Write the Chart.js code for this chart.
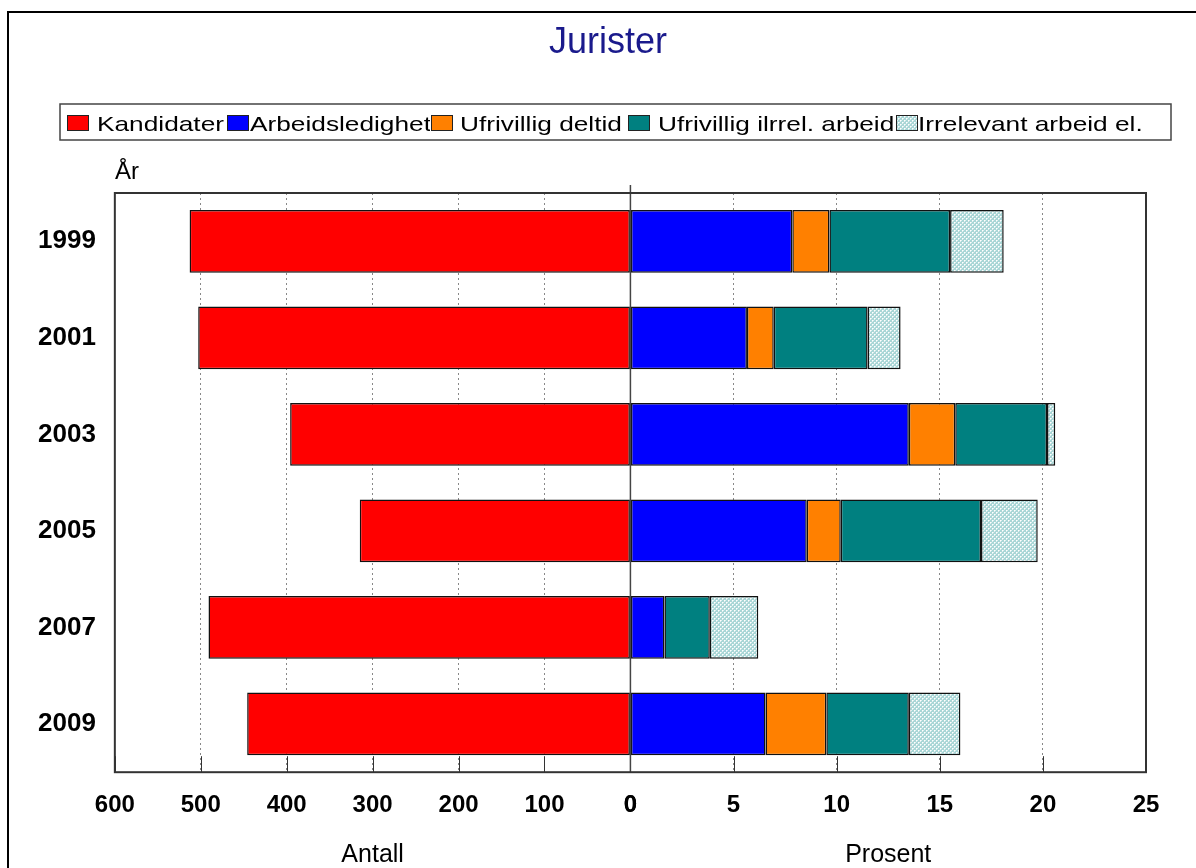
<!DOCTYPE html>
<html><head><meta charset="utf-8">
<script src="https://cdn.jsdelivr.net/npm/chart.js@4.4.0/dist/chart.umd.min.js"></script>
<style>html,body{margin:0;padding:0;background:#fff}canvas{display:block}</style>
</head><body>
<canvas id="c" width="1196" height="868"></canvas>
<script>
const years = ['1999','2001','2003','2005','2007','2009'];
const kandidater = [513, 503, 396, 315, 491, 446];
const arbeidsledighet = [7.85, 5.65, 13.5, 8.55, 1.65, 6.55];
const ufrivilligDeltid = [1.8, 1.3, 2.25, 1.65, 0, 2.95];
const ufrivilligIlrrel = [5.85, 4.55, 4.45, 6.8, 2.2, 4.0];
const irrelevantArbeid = [2.6, 1.6, 0.4, 2.75, 2.35, 2.5];
const antallTicks = [0,100,200,300,400,500,600];
const prosentTicks = [0,5,10,15,20,25];

const FONT = '"Liberation Sans", Arial, sans-serif';

function makePattern(){
  const c = document.createElement('canvas'); c.width = 4; c.height = 4;
  const g = c.getContext('2d');
  g.fillStyle = '#a9d6d6'; g.fillRect(0,0,4,4);
  g.fillStyle = '#ffffff';
  g.fillRect(0,0,1,1); g.fillRect(2,2,1,1);
  g.fillStyle = '#dff0f0';
  g.fillRect(1,0,1,1); g.fillRect(0,1,1,1); g.fillRect(3,2,1,1); g.fillRect(2,3,1,1);
  return document.getElementById('c').getContext('2d').createPattern(c,'repeat');
}
const pattern = makePattern();

const decor = {
  id:'decor',
  afterDraw(chart){
    const ctx = chart.ctx, a = chart.chartArea;
    ctx.save();
    // outer frame
    ctx.strokeStyle = '#000'; ctx.lineWidth = 2;
    ctx.beginPath(); ctx.moveTo(8,868); ctx.lineTo(8,12); ctx.lineTo(1196,12); ctx.stroke();
    // title
    ctx.fillStyle = '#1a1a8c'; ctx.font = '36px ' + FONT;
    ctx.textAlign = 'center'; ctx.textBaseline = 'alphabetic';
    ctx.fillText('Jurister', 608, 53);
    // legend
    ctx.strokeStyle = '#444'; ctx.lineWidth = 1.5;
    ctx.strokeRect(60, 104, 1111, 36);
    const boxX = [67, 227, 431, 628, 896];
    const textX = [97, 250, 460, 658, 918];
    ctx.font = '21px ' + FONT; ctx.textAlign = 'left';
    chart.data.datasets.forEach((ds, i) => {
      ctx.save();
      ctx.translate(textX[i], 131);
      ctx.scale(1.25, 1);
      ctx.fillStyle = '#000';
      ctx.fillText(ds.label, 0, 0);
      ctx.restore();
      ctx.fillStyle = '#fff';
      ctx.fillRect(boxX[i]-1, 114, 23, 17);
      ctx.fillStyle = ds.backgroundColor;
      ctx.fillRect(boxX[i], 115, 21, 15);
      ctx.strokeStyle = '#222'; ctx.lineWidth = 1;
      ctx.strokeRect(boxX[i]+0.5, 115.5, 21, 15);
    });
    // År
    ctx.font = '24px ' + FONT; ctx.fillStyle = '#000';
    ctx.fillText('År', 115, 179);
    // inner ticks at bottom
    const xL = chart.scales.xL, xR = chart.scales.xR;
    ctx.strokeStyle = '#333'; ctx.lineWidth = 1;
    ctx.beginPath();
    xL.ticks.forEach(t => { const x = Math.round(xL.getPixelForValue(t.value))+0.5; ctx.moveTo(x, a.bottom); ctx.lineTo(x, a.bottom-16); });
    xR.ticks.forEach(t => { const x = Math.round(xR.getPixelForValue(t.value))+0.5; ctx.moveTo(x, a.bottom); ctx.lineTo(x, a.bottom-16); });
    ctx.stroke();
    // zero line
    const x0 = xR.getPixelForValue(0);
    ctx.strokeStyle = '#444'; ctx.lineWidth = 1.5;
    ctx.beginPath(); ctx.moveTo(x0, a.top - 8); ctx.lineTo(x0, a.bottom); ctx.stroke();
    // plot border
    ctx.strokeStyle = '#333'; ctx.lineWidth = 2;
    ctx.strokeRect(a.left, a.top, a.right - a.left, a.bottom - a.top);
    ctx.restore();
  }
};

const gridOpts = { color:'#888', drawTicks:false, lineWidth:1 };
const borderOpts = { display:false, dash:[2,3] };
const tickFont = { family: FONT, size: 24, weight: 'bold' };
const titleFont = { family: FONT, size: 25, lineHeight: 1.0 };

new Chart(document.getElementById('c'), {
  type:'bar',
  data:{
    labels: years,
    datasets:[
      {label:'Kandidater', data:kandidater, xAxisID:'xL', backgroundColor:'#ff0000'},
      {label:'Arbeidsledighet', data:arbeidsledighet, xAxisID:'xR', backgroundColor:'#0000ff'},
      {label:'Ufrivillig deltid', data:ufrivilligDeltid, xAxisID:'xR', backgroundColor:'#ff8000'},
      {label:'Ufrivillig ilrrel. arbeid', data:ufrivilligIlrrel, xAxisID:'xR', backgroundColor:'#008080'},
      {label:'Irrelevant arbeid el.', data:irrelevantArbeid, xAxisID:'xR', backgroundColor:pattern}
    ]
  },
  options:{
    indexAxis:'y', responsive:false, animation:false,
    layout:{padding:{top:193, left:27, right:50, bottom:0}},
    datasets:{bar:{barPercentage:0.65, categoryPercentage:1, borderWidth:1.5, borderColor:'#111', borderSkipped:false}},
    plugins:{legend:{display:false}, title:{display:false}, tooltip:{enabled:false}},
    scales:{
      y:{stacked:true, grid:{display:false}, border:{display:false},
         ticks:{color:'#000', font:{family:FONT, size:26, weight:'bold'}, padding:11}},
      xL:{type:'linear', position:'bottom', stack:'bottom', stackWeight:1, reverse:true, min:0, max:600, stacked:true,
          afterBuildTicks: s => { s.ticks = antallTicks.map(v => ({value:v})); },
          grid:gridOpts, border:borderOpts,
          ticks:{color:'#000', font:tickFont, padding:19, maxRotation:0},
          title:{display:true, text:'Antall', color:'#000', font:titleFont, padding:{top:4, bottom:0}}},
      xR:{type:'linear', position:'bottom', stack:'bottom', stackWeight:1, min:0, max:25, stacked:true,
          afterBuildTicks: s => { s.ticks = prosentTicks.map(v => ({value:v})); },
          grid:gridOpts, border:borderOpts,
          ticks:{color:'#000', font:tickFont, padding:19, maxRotation:0},
          title:{display:true, text:'Prosent', color:'#000', font:titleFont, padding:{top:4, bottom:0}}}
    }
  },
  plugins:[decor]
});
</script>
</body></html>
